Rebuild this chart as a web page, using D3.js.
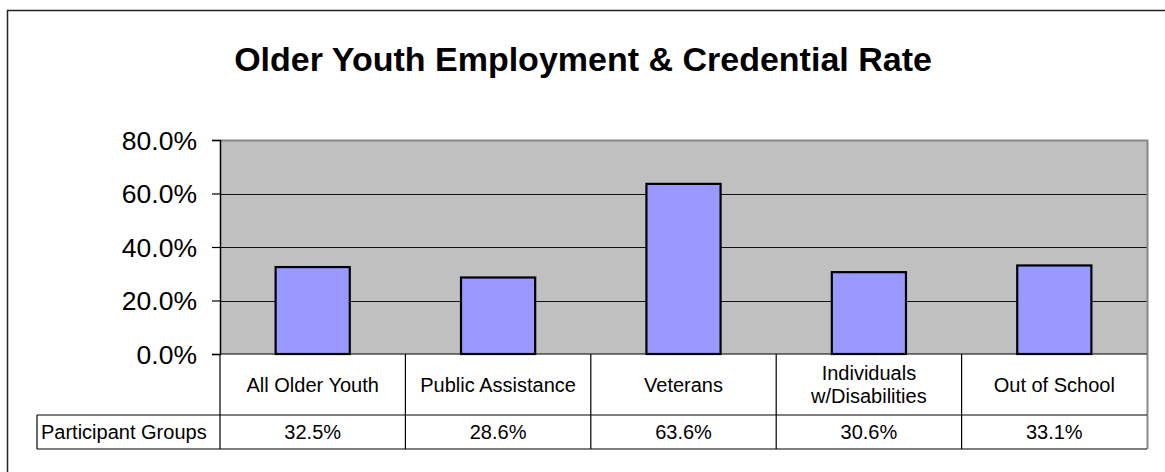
<!DOCTYPE html>
<html>
<head>
<meta charset="utf-8">
<script src="https://cdn.jsdelivr.net/npm/d3@7"></script>
<style>
  html, body { margin: 0; padding: 0; background: #fff; }
  svg { display: block; font-family: "Liberation Sans", Arial, sans-serif; }
</style>
</head>
<body>
<svg id="chart" width="1165" height="472"></svg>
<script>
// Chart content
const title = "Older Youth Employment & Credential Rate";
const categories = ["All Older Youth", "Public Assistance", "Veterans", "Individuals\nw/Disabilities", "Out of School"];
const seriesName = "Participant Groups";
const rates = [0.325, 0.286, 0.636, 0.306, 0.331];
const yTicks = [0, 0.2, 0.4, 0.6, 0.8];

const svg = d3.select("#chart");

// Plot box and data-table geometry
const plot = { left: 220, right: 1147, top: 140, bottom: 354 };
const table = { labelLeft: 37, catBottom: 415, valBottom: 449 };

const y = d3.scaleLinear().domain([0, 0.8]).range([plot.bottom, plot.top]);
const x = d3.scaleBand().domain(categories).range([plot.left, plot.right])
  .paddingInner(0.6).paddingOuter(0.3);
const cols = d3.scaleBand().domain(categories).range([plot.left, plot.right]);
const pct = d3.format(".1%");

// Outer chart frame (runs past the right and bottom edges)
svg.append("rect")
  .attr("x", 7.5).attr("y", 10.5)
  .attr("width", 1200).attr("height", 500)
  .attr("fill", "none").attr("stroke", "#222").attr("stroke-width", 1.5);

// Title
svg.append("text")
  .attr("x", 583).attr("y", 71)
  .attr("text-anchor", "middle")
  .attr("font-size", 34).attr("font-weight", "bold")
  .attr("fill", "#000")
  .text(title);

// Plot background
svg.append("rect")
  .attr("x", plot.left).attr("y", plot.top)
  .attr("width", plot.right - plot.left).attr("height", plot.bottom - plot.top)
  .attr("fill", "#c0c0c0");

// Gridlines
svg.append("g")
  .selectAll("line")
  .data(yTicks.filter(t => t > 0 && t < 0.8))
  .join("line")
  .attr("x1", plot.left).attr("x2", plot.right)
  .attr("y1", d => Math.round(y(d)) + 0.5).attr("y2", d => Math.round(y(d)) + 0.5)
  .attr("stroke", "#111").attr("stroke-width", 1.2);

// Plot border (top and right in grey)
svg.append("path")
  .attr("d", `M${plot.left},${plot.top + 0.5}H${plot.right + 0.5}V${table.valBottom}`)
  .attr("fill", "none").attr("stroke", "#888").attr("stroke-width", 2);

// Bars
svg.append("g")
  .selectAll("rect")
  .data(categories.map((c, i) => ({ c, v: rates[i] })))
  .join("rect")
  .attr("x", d => x(d.c))
  .attr("y", d => y(d.v))
  .attr("width", x.bandwidth())
  .attr("height", d => y(0) - y(d.v))
  .attr("fill", "#9999ff")
  .attr("stroke", "#000").attr("stroke-width", 2.2);

// Y axis
const yAxis = d3.axisLeft(y).tickValues(yTicks).tickFormat(pct).tickSize(8).tickPadding(15);
const yg = svg.append("g").attr("transform", `translate(${plot.left},0)`).call(yAxis);
yg.attr("font-size", null).attr("font-family", null);
yg.select(".domain").attr("stroke", "#000").attr("stroke-width", 1.5);
yg.selectAll(".tick line").attr("stroke", "#000").attr("stroke-width", 1.2);
yg.selectAll(".tick text")
  .attr("font-size", 26.5).attr("fill", "#000").attr("dy", "0.35em");

// Data table
const tg = svg.append("g");
const line = (x1, y1, x2, y2, c = "#000") => tg.append("line")
  .attr("x1", x1).attr("y1", y1).attr("x2", x2).attr("y2", y2)
  .attr("stroke", c).attr("stroke-width", 1.2);

// Horizontal rules
line(plot.left, plot.bottom, plot.right, plot.bottom);
line(table.labelLeft, table.catBottom, plot.right, table.catBottom);
line(table.labelLeft, table.valBottom, plot.right, table.valBottom);
// Vertical rules
line(table.labelLeft, table.catBottom, table.labelLeft, table.valBottom);
categories.forEach(c => line(cols(c), plot.bottom, cols(c), table.valBottom));

// Category labels
const catMid = (plot.bottom + table.catBottom) / 2;
categories.forEach(c => {
  const lines = c.split("\n");
  const t = tg.append("text")
    .attr("x", cols(c) + cols.bandwidth() / 2)
    .attr("text-anchor", "middle")
    .attr("font-size", 20).attr("fill", "#000");
  lines.forEach((s, i) => {
    t.append("tspan")
      .attr("x", cols(c) + cols.bandwidth() / 2)
      .attr("y", catMid + (i - (lines.length - 1) / 2) * 23)
      .attr("dy", "0.35em")
      .text(s);
  });
});

// Series label and values
const valMid = (table.catBottom + table.valBottom) / 2;
tg.append("text")
  .attr("x", table.labelLeft + 4).attr("y", valMid).attr("dy", "0.35em")
  .attr("font-size", 20).attr("fill", "#000")
  .text(seriesName);
categories.forEach((c, i) => {
  tg.append("text")
    .attr("x", cols(c) + cols.bandwidth() / 2).attr("y", valMid).attr("dy", "0.35em")
    .attr("text-anchor", "middle")
    .attr("font-size", 20).attr("fill", "#000")
    .text(pct(rates[i]));
});
</script>
</body>
</html>
